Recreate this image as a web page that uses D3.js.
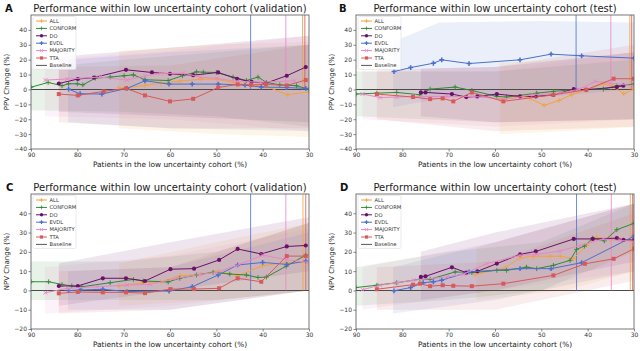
<!DOCTYPE html>
<html>
<head>
<meta charset="utf-8">
<script src="https://d3js.org/d3.v7.min.js"></script>
<style>
  body { margin: 0; background: #fff; }
  svg { display: block; font-family: "DejaVu Sans", sans-serif; }
</style>
</head>
<body>
<div id="chart"></div>
<script>
var W = 640, H = 351;

// series names and colours
var seriesNames = ["ALL", "CONFORM", "DO", "EVDL", "MAJORITY", "TTA"];
var seriesColors = ["#f2a33a", "#2f8a34", "#6a106a", "#4b6fcc", "#e787c4", "#d65a5a"];
var xTicks = [90, 80, 70, 60, 50, 40, 30];
var yTicksPPV = [-40, -30, -20, -10, 0, 10, 20, 30, 40];
var yTicksNPV = [-20, -10, 0, 10, 20, 30, 40];

// ---- panel A : PPV validation ----
var ppvVal = {
  ALL: [[71.1,1.1],[69.3,1.1],[65.4,2.7],[62,4.2],[57.8,5.6],[53.3,6.9],[49.9,6.9],[46.3,4.7],[42.7,3.1],[39.2,2.0],[34.6,-3.6],[30,-1.6]],
  CONFORM: [[90,1.5],[86.3,4.7],[83.3,2.5],[81.9,3.8],[80,3.8],[78.8,3.1],[76.1,7.6],[72.9,8.3],[69.9,9.2],[67.9,9.8],[65.4,6.5],[60.4,6],[57.3,9.2],[54.3,11.8],[52.8,11.6],[50,11.4],[46.4,8.3],[43.5,6],[41,8.3],[39.2,4.7],[36.3,3.1],[32.7,2.5],[30,0]],
  DO: [[84,4],[79.9,7],[76.4,8],[69.5,13.2],[63.9,11.4],[60,10.5],[55,9.6],[49.6,11.4],[45.5,7.1],[42.4,5.1],[39.3,4.2],[34.8,9.2],[30.7,15]],
  EVDL: [[81.9,0.2],[79.4,-2.9],[74.7,-3.1],[69.3,0.7],[65.4,5.8],[60.2,3.6],[55.2,3.6],[49.6,3.6],[43.8,2.9],[40.3,1.6],[34.8,1.3],[30.7,0.7]],
  MAJORITY: [[86.9,6.3],[82.2,7],[75.1,8.3],[69.3,6.3],[65.4,9.2],[62,10.7],[57.1,11],[53.5,8.3],[49.9,7.4],[45.6,5.4],[40.5,4.9],[33.1,5.8]],
  TTA: [[84,-3.1],[79.9,-4],[74.3,-1.3],[69.5,0.7],[65.4,-4],[60,-8],[55,-6.3],[49.6,1.3],[45.4,3.4],[42.5,3.1],[39.3,3.4],[34.8,2.7],[30.7,6.3]]
};
var ppvValBands = {
  CONFORM: [[90,-14,14],[70,-15,20],[50,-18,25],[30,-25,30]],
  MAJORITY: [[87,-18,20],[60,-20,26],[30,-28,36]],
  DO: [[84,-15,22],[60,-18,28],[30,-22,36]],
  TTA: [[84,-22,15],[60,-26,16],[30,-26,30]],
  EVDL: [[82,-22,20],[60,-26,25],[30,-28,30]],
  ALL: [[71,-26,26],[50,-30,30],[30,-32,32]]
};
var ppvValCut = {EVDL: 42.6, MAJORITY: 35, ALL: 31.4, TTA: 30.9};

// ---- panel B : PPV test ----
var ppvTest = {
  ALL: [[58.9,-6.5],[55.6,-4.7],[52.5,-6],[49.4,-10.7],[46.2,-7.4],[43.5,-3.6],[40.3,-0.2],[36.6,3.8],[34.6,2],[32.2,-2.9],[30,0.2]],
  CONFORM: [[90,-3.1],[85.5,-2.5],[81.2,-2],[76.2,-3.6],[74,0.2],[68.6,1.6],[65,-0.7],[59.6,-4.7],[57.5,-5.1],[51,-2.5],[47.4,-1.3],[43.1,-0.2],[36.6,0.2],[33.7,2.5],[30,3.6]],
  DO: [[76,-2],[75,-2],[69.3,-3.1],[66.2,-5.1],[63.8,-4.7],[59.6,-3.1],[54.6,-4.7],[51.2,-4.7],[47.4,-3.6],[43,0.2],[40.3,-0.2],[33.7,1.6],[32.3,2.5]],
  EVDL: [[81.8,12],[78.2,14.7],[73.3,17.6],[71.5,19.9],[65.6,17.4],[54.6,19.9],[47.9,23.7],[41.3,22.6],[30,21]],
  MAJORITY: [[88.6,-3.1],[84.8,-5.4],[81.2,-5.1],[77.6,-4.7],[70.4,-4.7],[64.8,-4.7],[57.5,-6.5],[51.7,-3.6],[46,-2.5],[41.7,0.2],[38.4,5.4],[35.2,4.2],[30,2.5]],
  TTA: [[85.5,-3.1],[77.7,-5.1],[74,-6.5],[71.3,-6],[69,-8],[65,-2],[58.2,-8],[47.4,-3.6],[40.3,-0.2],[34.4,7.2],[30,7.2]]
};
var ppvTestBands = {
  CONFORM: [[90,-18,12],[60,-22,12],[30,-20,20]],
  MAJORITY: [[88.6,-20,12],[60,-25,12],[30,-20,25]],
  TTA: [[85.5,-20,13],[60,-28,15],[30,-25,30]],
  EVDL: [[82,-12,32],[72,-6,45],[50,-5,46],[30,0,45]],
  DO: [[76,-18,14],[60,-22,15],[30,-20,25]],
  ALL: [[59,-30,18],[45,-28,20],[30,-25,25]]
};
var ppvTestCut = {EVDL: 42.5, MAJORITY: 35, ALL: 30.9, TTA: 30.5};

// ---- panel C : NPV validation ----
var npvVal = {
  ALL: [[71.1,2.3],[65.8,4],[62,4.5],[57.8,7.6],[53.5,8.3],[49.6,10],[45.4,7.6],[40,12.8],[34.8,14.5],[30.7,14.5]],
  CONFORM: [[90,4.5],[86.2,4.5],[83.3,3.1],[81.2,2.3],[79,1.9],[72.9,4],[67.9,5.7],[65.8,4.9],[60.4,4.4],[57.9,6.3],[54.3,8],[50.7,9.4],[47.1,8.5],[43.5,8],[41,6.7],[39.2,6.9],[34.9,12.6],[30.7,18.3]],
  DO: [[84,2.3],[79.9,2.3],[74.5,6.3],[69.5,6.3],[65.4,4.9],[59.9,11],[54.8,11.3],[49.4,15.8],[45.4,21.5],[40.3,18.9],[34.8,22.8],[30.7,23.3]],
  EVDL: [[81.9,-0.1],[79.4,0.2],[74.5,0.6],[69.3,-0.6],[60.2,-0.3],[55.2,1.9],[49.6,8],[45.4,13.2],[40,14.5],[34.8,13.5],[30.7,15.2]],
  MAJORITY: [[86.9,-1.2],[82.2,1.1],[75.8,1.9],[69.3,2.8],[64.3,3.1],[58.5,6.3],[53.5,8.3],[49.9,9.4],[45,13.5],[40,18.3],[34.9,16],[30,14.5]],
  TTA: [[84,-1.5],[79.9,-0.8],[74.5,-1],[69.5,-1],[65.4,-1.4],[59.9,0.7],[54.8,0.7],[49.4,1.1],[45.4,6.3],[40.3,4.5],[34.8,17.8],[30.7,17.8]]
};
var npvValBands = {
  CONFORM: [[90,-5,15],[70,-5,15],[50,-5,20],[30,0,35]],
  MAJORITY: [[87,-12,12],[60,-8,18],[30,0,32]],
  DO: [[84,-8,14],[60,0,25],[30,10,38]],
  TTA: [[84,-12,10],[60,-10,12],[30,0,35]],
  EVDL: [[82,-10,10],[60,-10,12],[30,0,30]],
  ALL: [[71,-8,14],[50,-5,25],[30,0,35]]
};
var npvValCut = {EVDL: 42.6, MAJORITY: 35, ALL: 31.3, TTA: 30.7};

// ---- panel D : NPV test ----
var npvTest = {
  ALL: [[64.3,8.2],[57.8,11.8],[54.6,16.8],[51.7,17.7],[48.1,17.7],[45.9,17.7],[43.1,16.5],[40.2,23.3],[38.1,27.6],[35.2,26.4],[33,26.4],[30,25.9]],
  CONFORM: [[90,1.5],[85.5,2.7],[81.2,4],[76.2,5.8],[74,5.8],[68.6,9.6],[65,9.2],[59.6,10.4],[57.5,10.4],[53.2,12.1],[51,11.3],[47.4,13],[43.8,15.6],[42.4,21.3],[40.7,23],[38.9,27.1],[36.4,25.7],[33.7,31.5],[30,34.8]],
  DO: [[76,7],[75,7.3],[69.3,12],[66.2,9.2],[63.8,9.9],[59.6,13.9],[54.6,18.7],[51.2,20.2],[43,26.7],[38.9,26.7],[33.7,27.1],[32.3,26.2],[30,26.2]],
  EVDL: [[81.8,-0.2],[78.2,1.5],[75.5,4],[73.3,4.5],[71.5,5.3],[65.6,9.6],[54.6,11.3],[47.9,11.3],[41.3,14.4],[30,28.1]],
  MAJORITY: [[88.6,0.4],[84.8,2.7],[81.2,4],[77.6,5.3],[70.4,7],[66.8,8.4],[61.8,13.9],[54.6,18.2],[51,18.7],[46,20.4],[41.7,23.3],[36.6,26.7],[33,25.9],[30,25.4]],
  TTA: [[85.5,0.6],[77.7,3],[76.2,3.5],[74,2.2],[71.3,2.7],[69,2.4],[65,2.2],[58.2,3.5],[47.4,7.8],[40.6,13.8],[34.4,16.4],[30,21.6]]
};
var npvTestBands = {
  CONFORM: [[90,-8,12],[70,-5,20],[50,0,25],[30,20,45]],
  MAJORITY: [[88.6,-10,12],[60,0,25],[30,10,45]],
  TTA: [[85.5,-10,12],[60,-10,15],[30,5,40]],
  EVDL: [[82,-12,12],[60,-5,25],[30,10,45]],
  DO: [[76,-5,20],[60,0,30],[30,15,45]],
  ALL: [[64,-5,22],[45,0,35],[30,10,45]]
};
var npvTestCut = {EVDL: 42.4, MAJORITY: 34.9, ALL: 30.8, TTA: 30.3};

var svg = d3.select("#chart").append("svg")
  .attr("width", W)
  .attr("height", H);

var colorOf = d3.scaleOrdinal().domain(seriesNames).range(seriesColors);

// marker shapes per series
function drawMarker(sel, name) {
  var c = colorOf(name);
  if (name == "DO") {
    sel.append("circle").attr("r", 2.1).attr("fill", c);
  } else if (name == "TTA") {
    sel.append("rect").attr("x", -2).attr("y", -2).attr("width", 4).attr("height", 4).attr("fill", c);
  } else if (name == "MAJORITY") {
    sel.append("path").attr("d", "M-2,-2L2,2M-2,2L2,-2").attr("stroke", c).attr("stroke-width", 0.9);
  } else if (name == "EVDL") {
    sel.append("path").attr("d", "M-2.4,0H2.4M0,-2.4V2.4").attr("stroke", c).attr("stroke-width", 1.5);
  } else {
    sel.append("path").attr("d", "M-2.4,0H2.4M0,-2.4V2.4").attr("stroke", c).attr("stroke-width", 0.9);
  }
}

function drawPanel(cfg) {
  var x = d3.scaleLinear().domain([90, 30]).range([cfg.x0, cfg.x1]);
  var y = d3.scaleLinear().domain(cfg.yDomain).range([cfg.y1, cfg.y0]);
  var g = svg.append("g");
  var clipId = "clip-" + cfg.letter;

  g.append("clipPath").attr("id", clipId)
    .append("rect")
      .attr("x", cfg.x0).attr("y", cfg.y0)
      .attr("width", cfg.x1 - cfg.x0).attr("height", cfg.y1 - cfg.y0);

  var plot = g.append("g").attr("clip-path", "url(#" + clipId + ")");

  // confidence bands
  var area = d3.area()
    .x(function(d) { return x(d[0]); })
    .y0(function(d) { return y(d[1]); })
    .y1(function(d) { return y(d[2]); });
  seriesNames.forEach(function(name) {
    plot.append("path")
      .datum(cfg.bands[name])
      .attr("d", area)
      .attr("fill", colorOf(name))
      .attr("fill-opacity", 0.11);
  });

  // baseline
  plot.append("line")
    .attr("x1", cfg.x0).attr("x2", cfg.x1)
    .attr("y1", y(0)).attr("y2", y(0))
    .attr("stroke", "#4a4a4a").attr("stroke-width", 1.1);

  // cut-off lines
  Object.keys(cfg.cut).forEach(function(name) {
    plot.append("line")
      .attr("x1", x(cfg.cut[name])).attr("x2", x(cfg.cut[name]))
      .attr("y1", cfg.y0).attr("y2", y(0))
      .attr("stroke", colorOf(name))
      .attr("stroke-opacity", 0.8)
      .attr("stroke-width", 1);
  });

  var line = d3.line()
    .x(function(d) { return x(d[0]); })
    .y(function(d) { return y(d[1]); });

  seriesNames.forEach(function(name) {
    plot.append("path")
      .datum(cfg.data[name])
      .attr("d", line)
      .attr("fill", "none")
      .attr("stroke", colorOf(name))
      .attr("stroke-width", 1);
    plot.selectAll(".m-" + name)
      .data(cfg.data[name])
      .enter().append("g")
        .attr("class", "m-" + name)
        .attr("transform", function(d) { return "translate(" + x(d[0]) + "," + y(d[1]) + ")"; })
        .each(function() { drawMarker(d3.select(this), name); });
  });

  // frame
  g.append("rect")
    .attr("x", cfg.x0).attr("y", cfg.y0)
    .attr("width", cfg.x1 - cfg.x0).attr("height", cfg.y1 - cfg.y0)
    .attr("fill", "none").attr("stroke", "#555").attr("stroke-width", 0.8);

  // axes
  var xAxis = g.append("g")
    .attr("transform", "translate(0," + cfg.y1 + ")")
    .call(d3.axisBottom(x).tickValues(xTicks).tickSize(2.5).tickPadding(1.5));
  var yAxis = g.append("g")
    .attr("transform", "translate(" + cfg.x0 + ",0)")
    .call(d3.axisLeft(y).tickValues(cfg.yTicks).tickSize(2.5).tickPadding(1.5)
      .tickFormat(function(d) { return d < 0 ? "\u2212" + Math.abs(d) : d; }));
  [xAxis, yAxis].forEach(function(a) {
    a.select(".domain").remove();
    a.selectAll("line").attr("stroke", "#555").attr("stroke-width", 0.7);
    a.selectAll("text").attr("fill", "#333").style("font-size", "6px")
      .style("font-family", "DejaVu Sans");
  });

  // titles and labels
  var cx = (cfg.x0 + cfg.x1) / 2;
  g.append("text")
    .attr("x", cx).attr("y", cfg.y0 - 3.5)
    .attr("text-anchor", "middle")
    .style("font-size", "10px").attr("fill", "#222")
    .text(cfg.title);
  g.append("text")
    .attr("x", cfg.letterX).attr("y", cfg.y0 - 3)
    .style("font-size", "10px").style("font-weight", "bold").attr("fill", "#111")
    .text(cfg.letter);
  g.append("text")
    .attr("x", cx).attr("y", cfg.y1 + 17.5)
    .attr("text-anchor", "middle")
    .style("font-size", "7.4px").attr("fill", "#222")
    .text("Patients in the low uncertainty cohort (%)");
  g.append("text")
    .attr("transform", "translate(" + (cfg.x0 - 22) + "," + ((cfg.y0 + cfg.y1) / 2) + ") rotate(-90)")
    .attr("text-anchor", "middle")
    .style("font-size", "7px").attr("fill", "#222")
    .text(cfg.yLabel);

  // legend
  var lg = g.append("g").attr("transform", "translate(" + (cfg.x0 + 2) + "," + (cfg.y0 + 1.5) + ")");
  lg.append("rect")
    .attr("width", 43).attr("height", 53).attr("rx", 1.5)
    .attr("fill", "#fff").attr("fill-opacity", 0.8)
    .attr("stroke", "#ddd").attr("stroke-width", 0.6);
  var legendNames = seriesNames.concat(["Baseline"]);
  var rows = lg.selectAll(".lrow")
    .data(legendNames)
    .enter().append("g")
      .attr("class", "lrow")
      .attr("transform", function(d, i) { return "translate(0," + (4.5 + i * 7.4) + ")"; });
  rows.append("line")
    .attr("x1", 3).attr("x2", 14)
    .attr("stroke", function(d) { return d == "Baseline" ? "#555" : colorOf(d); })
    .attr("stroke-width", 1);
  rows.filter(function(d) { return d != "Baseline"; })
    .append("g").attr("transform", "translate(8.5,0) scale(0.8)")
    .each(function(d) { drawMarker(d3.select(this), d); });
  rows.append("text")
    .attr("x", 16.5).attr("y", 1.8)
    .style("font-size", "5.2px").attr("fill", "#333")
    .text(function(d) { return d; });
}

drawPanel({letter: "A", letterX: 5, x0: 31, x1: 309, y0: 15, y1: 149, yDomain: [-40, 50], yTicks: yTicksPPV,
  data: ppvVal, bands: ppvValBands, cut: ppvValCut, yLabel: "PPV Change (%)",
  title: "Performance within low uncertainty cohort (validation)"});
drawPanel({letter: "B", letterX: 339, x0: 356, x1: 634, y0: 15, y1: 149, yDomain: [-40, 50], yTicks: yTicksPPV,
  data: ppvTest, bands: ppvTestBands, cut: ppvTestCut, yLabel: "PPV Change (%)",
  title: "Performance within low uncertainty cohort (test)"});
drawPanel({letter: "C", letterX: 6, x0: 31, x1: 309, y0: 194, y1: 329, yDomain: [-20, 50], yTicks: yTicksNPV,
  data: npvVal, bands: npvValBands, cut: npvValCut, yLabel: "NPV Change (%)",
  title: "Performance within low uncertainty cohort (validation)"});
drawPanel({letter: "D", letterX: 340, x0: 356, x1: 634, y0: 194, y1: 329, yDomain: [-20, 50], yTicks: yTicksNPV,
  data: npvTest, bands: npvTestBands, cut: npvTestCut, yLabel: "NPV Change (%)",
  title: "Performance within low uncertainty cohort (test)"});
</script>
</body>
</html>
